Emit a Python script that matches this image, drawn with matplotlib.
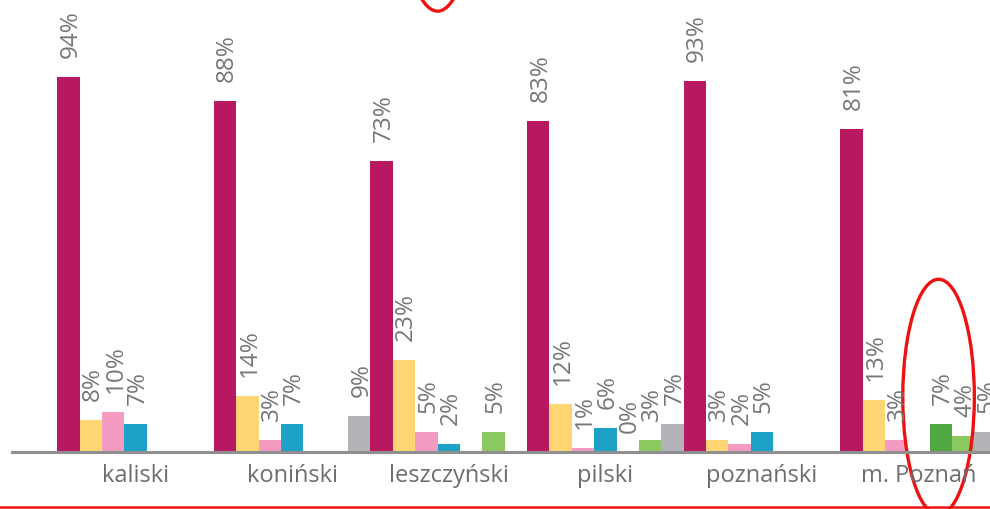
import matplotlib
matplotlib.use("Agg")
import matplotlib.pyplot as plt
from matplotlib.patches import Ellipse
from matplotlib.lines import Line2D
import numpy as np

plt.rcParams['font.family'] = ['Open Sans', 'DejaVu Sans']

# subregions and series values in percent (None = no bar)
regions = ["kaliski", "koniński", "leszczyński", "pilski", "poznański", "m. Poznań"]
s_magenta = [94, 88, 73, 83, 93, 81]
s_yellow = [8, 14, 23, 12, 3, 13]
s_pink = [10, 3, 5, 1, 2, 3]
s_blue = [7, 7, 2, 6, 5, None]
s_dgreen = [None, None, None, 0, None, 7]
s_lgreen = [None, None, 5, 3, None, 4]
s_gray = [None, 9, None, 7, None, 5]

series = [s_magenta, s_yellow, s_pink, s_blue, s_dgreen, s_lgreen, s_gray]
colors = ["#B8185F", "#FFD673", "#F49BC2", "#1EA1C6", "#52A843", "#8BC960", "#B2B4B7"]

n = len(series)
fig = plt.figure(figsize=(9.9, 5.09), dpi=100)
ax = fig.add_axes([0.0121, 0.112, 0.9879, 0.888])

for j, (vals, col) in enumerate(zip(series, colors)):
    for i, v in enumerate(vals):
        if v is None:
            continue
        x = i * n + j
        ax.bar(x, v, width=1.0, color=col, linewidth=0)
        ax.annotate(f"{v}%", (x, v), xytext=(1.5, 13.5), textcoords="offset points",
                    rotation=90, ha="center", va="bottom", fontsize=17.5,
                    color="#767676", annotation_clip=False)

ax.set_xlim(-2.53, 41.2)
ax.set_ylim(0, 113.3)
ax.set_xticks([i * n + 3 for i in range(len(regions))])
ax.set_xticklabels(regions, fontsize=17, color="#6e6e6e")
ax.tick_params(axis="x", length=0, pad=9)
ax.set_yticks([])
for s in ["top", "right", "left"]:
    ax.spines[s].set_visible(False)
ax.spines["bottom"].set_color("#8f8f8f")
ax.spines["bottom"].set_linewidth(2.2)

# red highlight marks
ax.add_patch(Ellipse((38.9, 13.8), 3.2, 59, fill=False, edgecolor="#EE1111",
                     linewidth=2.4, clip_on=False))
ax.add_patch(Ellipse((16.5, 140), 3.2, 59, fill=False, edgecolor="#EE1111",
                     linewidth=2.4, clip_on=False))
fig.add_artist(Line2D([0, 1], [0.004, 0.004], color="#EE1111", linewidth=1.8))

fig.savefig("out.png", dpi=100)
